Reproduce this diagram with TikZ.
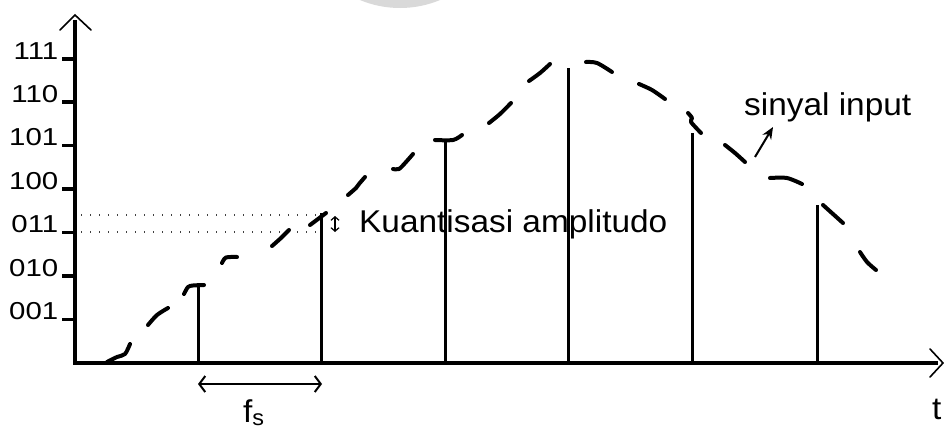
\documentclass[tikz,border=0pt]{standalone}
\usepackage{fontspec}
\setmainfont{Liberation Sans}
\usetikzlibrary{arrows.meta}
\newcommand{\widelvl}[1]{\scalebox{1.2}[1]{#1}}
\newcommand{\widelbl}[1]{\scalebox{1.06}[1]{#1}}
\begin{document}
\begin{tikzpicture}[x=1pt,y=-1pt,
  axisline/.style={line width=3.6pt},
  headline/.style={line width=1.6pt,line cap=round,line join=miter},
  tickline/.style={line width=3.2pt},
  stemline/.style={line width=3pt},
  sig/.style={line width=4pt,line cap=round,line join=round},
  dotline/.style={line width=1.3pt,dash pattern=on 1.2pt off 7.8pt,black!75},
  lvl/.style={anchor=base east,inner sep=0pt,font=\fontsize{24.5}{28}\selectfont},
  lbl/.style={anchor=base west,inner sep=0pt,font=\fontsize{31.5}{36}\selectfont}]
\useasboundingbox (0,0) rectangle (944,431);
\clip (0,0) rectangle (944,431);
% watermark
\fill[black!15] (400,-96) circle (104);
% dotted guides
\draw[dotline] (81,232) -- (318,232);
\draw[dotline] (81,215) -- (318,215);
% axes
\draw[axisline] (75,364.5) -- (75,20);
\draw[headline] (60,30) -- (75,15) -- (91,30);
\draw[axisline] (73.2,363) -- (938,363);
\draw[headline] (930,349) -- (943,363) -- (930,377);
% ticks and level labels
\foreach \y/\lab in {59/111,102/110,145.5/101,189/100,232.5/011,276/010,319.5/001}{
  \draw[tickline] (62,\y) -- (75,\y);
  \node[lvl] at (58.5,\y) {\widelvl{\lab}};
}
% stems
\foreach \x/\y in {198/285,321/213,445/139,568/68,692/133,817/205}{
  \draw[stemline] (\x,363) -- (\x,\y);
}
% signal dashes
\draw[sig] plot[smooth] coordinates {(107,362) (117,357) (125,354) (130,344)};
\draw[sig] plot[smooth] coordinates {(148,325) (157,315) (168,308)};
\draw[sig] plot[smooth] coordinates {(184,294) (188,287) (193,285.5) (204,285)};
\draw[sig] plot[smooth] coordinates {(222,263) (226,257.5) (237,257)};
\draw[sig] plot[smooth] coordinates {(272,246) (281,238) (289,230)};
\draw[sig] plot[smooth] coordinates {(310,225) (318,219) (326,213)};
\draw[sig] plot[smooth] coordinates {(348,195) (356,188) (359,184) (365,177)};
\draw[sig] plot[smooth] coordinates {(393,169) (399,169) (406,162) (413,154)};
\draw[sig] plot[smooth] coordinates {(435,140) (453,140) (462,135)};
\draw[sig] plot[smooth] coordinates {(489,123) (500,114) (511,103)};
\draw[sig] plot[smooth] coordinates {(529,81) (540,73) (550,64)};
\draw[sig] plot[smooth] coordinates {(586,62) (597,63) (612,72)};
\draw[sig] plot[smooth] coordinates {(639,84) (652,90) (665,99)};
\draw[sig] plot[smooth] coordinates {(688,113) (692,118) (691,122) (701,133)};
\draw[sig] plot[smooth] coordinates {(725,145) (735,153) (745,162)};
\draw[sig] plot[smooth] coordinates {(770,178) (787,178) (802,184)};
\draw[sig] plot[smooth] coordinates {(823,205) (833,214) (843,223)};
\draw[sig] plot[smooth] coordinates {(860,252) (867,262) (876,270)};
% small quantisation arrow
\draw[line width=1.2pt,{Straight Barb[length=3.5pt,width=8pt]}-{Straight Barb[length=3.5pt,width=8pt]}] (335,216) -- (335,232);
% labels
\node[lbl] (kuant) at (359,232) {\widelbl{Kuantisasi amplitudo}};
\node[lbl] (sinyal) at (744,115) {\widelbl{sinyal input}};
\coordinate (sigpt) at (755,157);
\coordinate (sigtip) at (773,127);
\draw[line width=2pt,-{Stealth[length=12pt,width=10pt]}] (sigpt) -- (sigtip);
% fs arrow
\coordinate (fsA) at (198,384);
\coordinate (fsB) at (322,384);
\draw[line width=2pt,{Straight Barb[length=6pt,width=16pt]}-{Straight Barb[length=6pt,width=16pt]}] (fsA) -- (fsB);
\node[lbl] (fs) at (243,422) {\widelbl{f\textsubscript{s}}};
\node[lbl] (t) at (932,419) {\widelbl{t}};
\end{tikzpicture}
\end{document}
